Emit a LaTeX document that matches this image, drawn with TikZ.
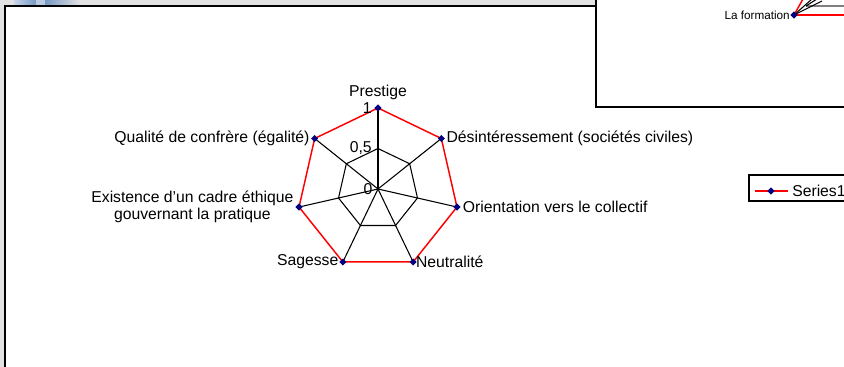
\documentclass[tikz,border=0pt]{standalone}
\usepackage{fontspec}
\setmainfont{Liberation Sans}
\usetikzlibrary{shapes.geometric}
\colorlet{series line}{red}
\definecolor{series mark}{RGB}{0,0,128}
\definecolor{band grey}{RGB}{226,226,226}
\definecolor{win blue}{RGB}{118,152,196}
\def\outerpoly{(prestige) -- (desint) -- (orient) -- (neutr) -- (sagesse) -- (exist) -- (qualite) -- cycle}
\def\halfpoly{(prestige-h) -- (desint-h) -- (orient-h) -- (neutr-h) -- (sagesse-h) -- (exist-h) -- (qualite-h) -- cycle}
\tikzset{frame/.style={draw=black, line width=1.1pt},
	grid/.style={draw=black, line width=0.8pt},
	series/.style={draw=series line, line width=1.1pt},
	marker/.style={diamond, fill=series mark, inner sep=0pt, minimum size=5.5pt},
	axislabel/.style={font=\fontsize{11.8}{13.2}\selectfont, inner sep=1pt},
	smalllabel/.style={font=\fontsize{8.8}{10}\selectfont, inner sep=1pt}}

\begin{document}
\begin{tikzpicture}[x=0.75pt,y=0.75pt]
		\useasboundingbox (0,0) rectangle (844,367);
		\clip (0,0) rectangle (844,367);
		\fill[band grey] (0,361) rectangle (596,367);
		\fill[band grey] (0,0) rectangle (4,361);
		\shade[left color=win blue!40, right color=win blue] (14,362) rectangle (36,367);
		\fill[win blue!50] (36,362) rectangle (45,367);
		\shade[left color=win blue, right color=band grey] (45,362) rectangle (80,367);
		\draw[frame] (5,-10) rectangle (900,361);
		\draw[frame, fill=white] (596,260) rectangle (900,380);
		
		\begin{scope}
		\coordinate (f) at (794,352);
		\draw[grid, draw=gray] (806,361) -- (850,361);
		\draw[grid] (f) -- (812,368);
		\draw[grid] (f) -- (822,366);
		\draw[grid] (806,361) -- (817,368);
		\draw[series] (f) -- (803,368);
		\draw[series] (f) -- (850,352);
		\node[marker] at (f) {};
		\node[smalllabel, left=2pt] at (f) {La formation};
		\end{scope}
		
		\begin{scope}[shift={(378,178)}]
		\coordinate (o) at (0,0);
		\foreach \i/\name in {0/prestige,1/desint,2/orient,3/neutr,4/sagesse,5/exist,6/qualite}{
			\coordinate (\name) at ({90-\i*360/7}:81);
			\coordinate (\name-h) at ({90-\i*360/7}:40.5);
			\draw[grid] (o) -- (\name);
		}
		\draw[grid] \halfpoly;
		\draw[series] \outerpoly;
		\foreach \name in {prestige,desint,orient,neutr,sagesse,exist,qualite}
			\node[marker] at (\name) {};
		\node[axislabel, left=3.5pt] at (prestige) {1};
		\node[axislabel, left=3.5pt] at (prestige-h) {0,5};
		\node[axislabel, left=3pt] at (o) {0};
		\node[axislabel, above=5pt] at (prestige) {Prestige};
		\node[axislabel, right=2.75pt] at (desint) {Désintéressement (sociétés civiles)};
		\node[axislabel, right=3.3pt] at (orient) {Orientation vers le collectif};
		\node[axislabel, right=1pt] at (neutr) {Neutralité};
		\node[axislabel, left=2.2pt] at (sagesse) {Sagesse};
		\node[axislabel, left=3pt, align=center] at (exist) {Existence d’un cadre éthique\\gouvernant la pratique};
		\node[axislabel, left=2.75pt] at (qualite) {Qualité de confrère (égalité)};
		\end{scope}
		
		\draw[frame, line width=0.8pt] (749,166) rectangle (900,192);
		\coordinate (l1) at (755,176);
		\coordinate (l2) at (788,176);
		\draw[series] (l1) -- (l2);
		\node[marker] at (771,176) {};
		\node[axislabel, right=2pt] at (l2) {Series1};
		
		\end{tikzpicture}
\end{document}
